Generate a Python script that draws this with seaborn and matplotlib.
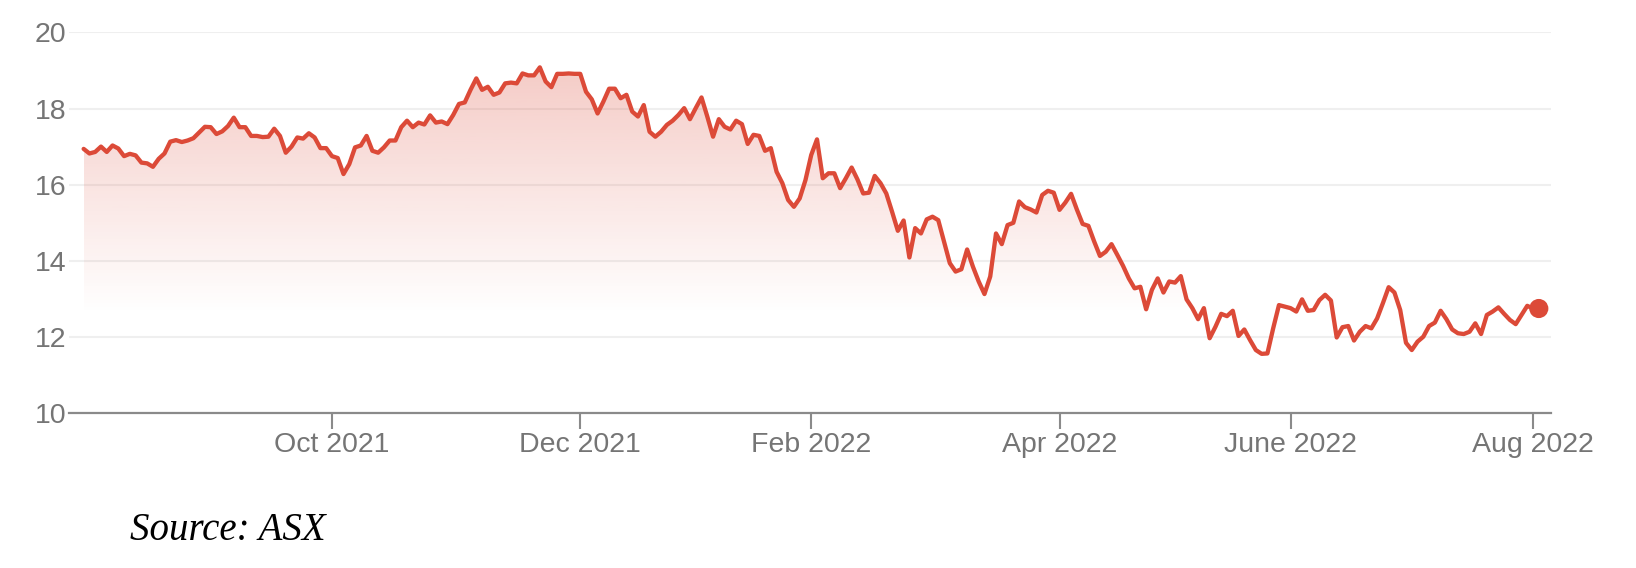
import numpy as np
import pandas as pd
import seaborn as sns
from matplotlib import pyplot as plt

# Daily closing price, one value per ASX trading day (3 Aug 2021 - 2 Aug 2022)
price = [
    16.94, 16.82, 16.86, 17.00, 16.86, 17.03, 16.95, 16.75, 16.81, 16.77,
    16.58, 16.56, 16.47, 16.68, 16.82, 17.13, 17.17, 17.12, 17.16, 17.22,
    17.37, 17.52, 17.51, 17.33, 17.40, 17.54, 17.76, 17.51, 17.51, 17.28,
    17.28, 17.25, 17.26, 17.47, 17.28, 16.84, 17.00, 17.24, 17.21, 17.35,
    17.24, 16.96, 16.96, 16.75, 16.70, 16.28, 16.54, 16.98,
    17.03, 17.28, 16.89, 16.84, 16.98, 17.16, 17.16, 17.51, 17.68, 17.51,
    17.63, 17.58, 17.82, 17.63, 17.66, 17.59, 17.83, 18.12, 18.16, 18.49,
    18.79, 18.49, 18.57, 18.36, 18.42, 18.66, 18.68, 18.66, 18.92, 18.87,
    18.87, 19.08, 18.71, 18.56, 18.91, 18.91, 18.92, 18.91, 18.91, 18.44,
    18.24, 17.87, 18.18, 18.52, 18.52, 18.27, 18.36, 17.92, 17.79,
    18.09, 17.39, 17.26, 17.39, 17.57, 17.68, 17.83, 18.01, 17.72, 18.01,
    18.29, 17.79, 17.26, 17.72, 17.52, 17.45, 17.68, 17.59, 17.07, 17.31,
    17.28, 16.89, 16.96, 16.34, 16.04, 15.60, 15.42, 15.64, 16.12, 16.78,
    17.19, 16.17, 16.30, 16.30, 15.91, 16.17, 16.45, 16.14, 15.77, 15.79,
    16.23, 16.04, 15.77, 15.29, 14.79, 15.06, 14.09, 14.86,
    14.72, 15.09, 15.16, 15.07, 14.51, 13.94, 13.72, 13.78, 14.30, 13.85,
    13.46, 13.13, 13.59, 14.72, 14.44, 14.94, 15.00, 15.56, 15.41, 15.35,
    15.27, 15.73, 15.84, 15.79, 15.34, 15.53, 15.76, 15.35, 14.97, 14.92,
    14.51, 14.13, 14.24, 14.44, 14.16, 13.87, 13.54, 13.28, 13.32, 12.73,
    13.24, 13.54, 13.17, 13.46, 13.43, 13.60, 12.99, 12.76, 12.47,
    12.76, 11.97, 12.27, 12.61, 12.55, 12.69, 12.03, 12.20, 11.92, 11.66,
    11.56, 11.57, 12.23, 12.84, 12.80, 12.76, 12.67, 12.99, 12.69, 12.71,
    12.97, 13.11, 12.96, 11.99, 12.26, 12.29, 11.91, 12.14, 12.29, 12.23,
    12.49, 12.89, 13.31, 13.17, 12.71, 11.85, 11.66, 11.88, 12.01, 12.29,
    12.38, 12.69, 12.47, 12.20, 12.10, 12.08, 12.14, 12.36,
    12.08, 12.58, 12.67, 12.78, 12.61, 12.45, 12.34, 12.58, 12.82, 12.75, 12.75,
]

# ASX market holidays inside the window
holidays = ["2021-12-27", "2021-12-28", "2022-01-03", "2022-01-26",
            "2022-04-15", "2022-04-18", "2022-04-25", "2022-06-13"]

tick_months = ["2021-10", "2021-12", "2022-02", "2022-04", "2022-06", "2022-08"]
tick_labels = ["Oct 2021", "Dec 2021", "Feb 2022", "Apr 2022", "June 2022", "Aug 2022"]
y_ticks = [10, 12, 14, 16, 18, 20]

RED = "#dc4a38"
GREY = "#757575"


def main():
    dates = pd.bdate_range("2021-08-03", "2022-08-02", freq="C", holidays=holidays)
    df = pd.DataFrame({"date": dates, "price": price})
    df["day"] = np.arange(len(df))

    # first trading day of each labelled month
    months = df["date"].dt.to_period("M").astype(str)
    tick_pos = [df.loc[months == m, "day"].iloc[0] for m in tick_months]

    sns.set_style("white")
    plt.rcParams["font.family"] = ["Liberation Sans", "DejaVu Sans"]

    fig = plt.figure(figsize=(16.36, 5.68), dpi=100)
    ax = fig.add_axes([0.0422, 0.2724, 0.9058, 0.6707])

    # gradient fill under the line
    poly = ax.fill_between(df["day"], df["price"], 10, color="none", lw=0)
    ys = np.linspace(10, 20, 200)
    alpha = np.clip((ys - 12.6) / (19.0 - 12.6), 0, 1) * 0.28
    grad = np.zeros((len(ys), 1, 4))
    grad[..., 0] = 0xdc / 255
    grad[..., 1] = 0x4a / 255
    grad[..., 2] = 0x38 / 255
    grad[:, 0, 3] = alpha
    img = ax.imshow(grad, extent=[0, len(df) - 1, 10, 20], origin="lower",
                    aspect="auto", zorder=1)
    img.set_clip_path(poly.get_paths()[0], transform=ax.transData)

    sns.lineplot(data=df, x="day", y="price", color=RED, linewidth=3.1, ax=ax, zorder=3)
    sns.scatterplot(data=df.tail(1), x="day", y="price", color=RED, s=190,
                    edgecolor="none", ax=ax, zorder=4)

    ax.set_xlim(-2.53, 254.1)
    ax.set_ylim(10, 20)
    ax.set_xticks(tick_pos)
    ax.set_xticklabels(tick_labels)
    ax.set_yticks(y_ticks)
    ax.set_xlabel("")
    ax.set_ylabel("")

    for s in ["top", "right", "left"]:
        ax.spines[s].set_visible(False)
    ax.spines["bottom"].set_color("#8a8a8a")
    ax.spines["bottom"].set_linewidth(1.6)
    ax.grid(axis="y", color="#efefef", linewidth=1.5)
    ax.grid(axis="x", visible=False)
    ax.set_axisbelow(True)

    ax.tick_params(axis="x", bottom=True, direction="out", length=11.5, width=1.5,
                   color="#8a8a8a", labelsize=20.5, labelcolor=GREY, pad=2)
    ax.tick_params(axis="y", left=False, length=0, labelsize=20.5, labelcolor=GREY, pad=2)

    fig.text(130 / 1636, 1 - 540 / 568, "Source: ASX", family="Liberation Serif",
             fontstyle="italic", fontsize=28, color="black", va="baseline")

    plt.savefig("out.png", dpi=100)


if __name__ == "__main__":
    main()
